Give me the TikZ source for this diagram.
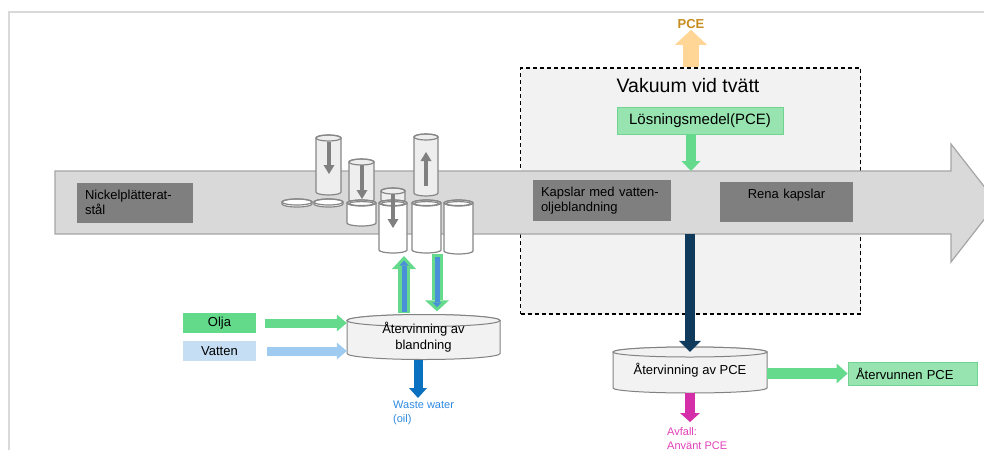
\documentclass[tikz,border=0pt]{standalone}
\usepackage{fontspec}
\setmainfont{Liberation Sans}
\usetikzlibrary{arrows.meta,positioning}

\definecolor{framegray}{RGB}{217,217,217}
\definecolor{bandgray}{RGB}{217,217,217}
\definecolor{bandline}{RGB}{165,165,165}
\definecolor{boxgray}{RGB}{127,127,127}
\definecolor{vacgray}{RGB}{242,242,242}
\definecolor{softgreen}{RGB}{151,228,176}
\definecolor{edgegreen}{RGB}{112,212,144}
\definecolor{oilgreen}{RGB}{99,217,138}
\definecolor{paleblue}{RGB}{197,222,244}
\definecolor{flowgreen}{RGB}{102,218,140}
\definecolor{flowblue}{RGB}{160,203,240}
\definecolor{midblue}{RGB}{74,144,217}
\definecolor{pcenavy}{RGB}{16,58,92}
\definecolor{wasteblue}{RGB}{10,112,192}
\definecolor{wastetext}{RGB}{47,138,224}
\definecolor{magentaflow}{RGB}{212,47,168}
\definecolor{avfallpink}{RGB}{224,64,184}
\definecolor{pceorange}{RGB}{255,214,150}
\definecolor{pcegold}{RGB}{200,140,30}
\definecolor{drumedge}{RGB}{130,130,130}
\definecolor{capedge}{RGB}{135,135,135}
\definecolor{capgray}{RGB}{128,128,128}
\definecolor{capfill}{RGB}{238,238,238}

\newcommand\capsule[5]{%
	\pgfmathsetmacro\crx{(#3-#1)/2}
	\filldraw[capline,fill=#5] (#1,#2+3) -- (#1,#4-3) arc[start angle=180,end angle=360,x radius=\crx pt,y radius=3pt] -- (#3,#2+3) arc[start angle=0,end angle=180,x radius=\crx pt,y radius=3pt] -- cycle;
	\draw[capline] ({(#1+#3)/2},#2+3) ellipse[x radius=\crx pt,y radius=3pt];
}
\newcommand\opencap[4]{%
	\capsule{#1}{#2}{#3}{#4}{white}
	\pgfmathsetmacro\cix{(#3-#1)/2-2.2}
	\draw[capline] ({(#1+#3)/2},#2+3.6) ellipse[x radius=\cix pt,y radius=2pt];
}
\newcommand\drum[7]{%
	\filldraw[drumline] (#2-#4,#3-#5) -- (#2-#4,#3+#5) arc[start angle=180,end angle=360,x radius=#4pt,y radius=#6pt] -- (#2+#4,#3-#5) arc[start angle=0,end angle=180,x radius=#4pt,y radius=#6pt] -- cycle;
	\draw[drumline] (#2,#3-#5) ellipse[x radius=#4pt,y radius=#6pt];
	\node[drumtext, minimum width=2*#4, minimum height=2*#5] (#1) at (#2,#3) {#7};
}

\begin{document}
\begin{tikzpicture}[x=1pt,y=-1pt,
	every node/.style={font=\fontsize{13}{15.5}\selectfont},
	gbox/.style={fill=boxgray, inner xsep=8pt, inner ysep=0pt, align=left},
	greenbox/.style={fill=softgreen, draw=edgegreen, line width=0.8pt, inner xsep=8pt, inner ysep=0pt, align=left},
	inbox/.style={fill=#1, minimum width=73pt, minimum height=20.5pt, inner sep=0pt},
	vacbox/.style={fill=vacgray, draw=black, line width=1.1pt, dash pattern=on 4pt off 3pt},
	drumline/.style={draw=drumedge, fill=vacgray, line width=1pt},
	drumtext/.style={align=center, inner sep=0pt},
	capline/.style={draw=capedge, line width=1.2pt},
	capflow/.style={draw=capgray, line width=4pt, -{Triangle[width=11pt,length=9pt,line width=0pt]}},
	pipe/.style n args={4}{draw=#1, line width=#2, -{Triangle[width=#3,length=#4,line width=0pt]}},
	tag/.style={font=\fontsize{11}{14}\selectfont, align=left, inner sep=0pt}]

	\useasboundingbox (0,0) rectangle (984,450);
	\draw[framegray, line width=1.5pt] (984,12) -- (9,12) -- (9,450);

	\node[vacbox, minimum width=340pt, minimum height=246pt] (vac) at (690.7,191) {};
	\node[font=\fontsize{19.5}{22}\selectfont] (vactitle) at (688,86) {Vakuum vid tvätt};

	\filldraw[fill=bandgray, draw=bandline, line width=1.2pt] (55,171) -- (951,171) -- (951,144) -- (997,203) -- (951,262) -- (951,234) -- (55,234) -- cycle;
	\coordinate (bandtop) at (691,171);
	\coordinate (bandbot) at (690,234);

	\node[gbox, text width=100pt, minimum height=40pt] (nickel) at (135,202.5) {Nickelplätterat-\\stål};
	\node[gbox, text width=122pt, minimum height=41pt] (kapslar) at (602,200.5) {Kapslar med vatten-\\oljeblandning};
	\node[gbox, text width=117pt, minimum height=40pt, align=center] (rena) at (786.5,202) {Rena kapslar\\\mbox{}};

	\node[greenbox, minimum width=166pt, minimum height=27pt, align=center, font=\fontsize{15}{18}\selectfont] (losn) at (700,120.5) {Lösningsmedel(PCE)};
	\node[font=\fontsize{13}{15}\selectfont\bfseries, text=pcegold, inner sep=1pt] (pce) at (691,24) {PCE};

	\draw[pipe={pceorange}{16pt}{32pt}{15pt}] (vac.north -| pce) -- (pce.south);
	\draw[pipe={flowgreen}{10pt}{19pt}{10pt}] (bandtop |- losn.south) -- (bandtop);

	\drum{pcerec}{690}{370}{77}{18}{5}{Återvinning av PCE}
	\drum{mix}{423.5}{337}{76.5}{16.5}{6}{Återvinning av\\blandning}

	\draw[pipe={pcenavy}{10pt}{22pt}{11pt}] (bandbot) -- (pcerec.north);

	\node[greenbox, text width=113pt, minimum height=23pt] (ret) at (912.5,373.5) {Återvunnen PCE};
	\draw[pipe={flowgreen}{11pt}{20pt}{11pt}] (pcerec.east |- ret) -- (ret.west);

	\node[tag, text=avfallpink, anchor=north west] (avfall) at (667,427) {Avfall:\\Använt PCE};
	\draw[pipe={magentaflow}{10pt}{20pt}{9pt}, shorten >=5pt] ([yshift=-5pt]pcerec.south) -- (pcerec.south |- avfall.north);

	\node[tag, text=wastetext, anchor=north west] (waste) at (393,401) {Waste water\\(oil)};
	\draw[pipe={wasteblue}{9pt}{18pt}{10pt}, shorten >=3pt] ([xshift=-5.5pt,yshift=-6pt]mix.south) -- ([xshift=-5.5pt]mix.south |- waste.north);

	\node[inbox=oilgreen] (olja) at (219.5,323) {Olja};
	\node[inbox=paleblue] (vatten) at (219.5,351) {Vatten};
	\draw[pipe={flowgreen}{9pt}{17pt}{10pt}, shorten <=9pt] (olja.east) -- (olja -| mix.west);
	\draw[pipe={flowblue}{9pt}{17pt}{10pt}, shorten <=11pt] (vatten.east) -- (vatten -| mix.west);

	\coordinate (capin) at (404,256);
	\coordinate (capout) at (437,254);
	\draw[pipe={flowgreen}{12pt}{24pt}{13pt}, shorten <=7pt] (mix.north -| capin) -- (capin);
	\draw[pipe={midblue}{5pt}{9pt}{5pt}, shorten <=8pt, shorten >=4.5pt] (mix.north -| capin) -- (capin);
	\draw[pipe={flowgreen}{11pt}{24pt}{11pt}, shorten >=9pt] (capout) -- (mix.north -| capout);
	\draw[pipe={midblue}{5pt}{9pt}{5pt}, shorten <=3pt, shorten >=13pt] (capout) -- (mix.north -| capout);

	\foreach \xa/\ya/\xb/\yb in {316/135/341/195, 349/159/374/203, 381/188/405/203, 414/134/438/196}
	{
		\capsule{\xa}{\ya}{\xb}{\yb}{capfill}
	}
	\foreach \xa/\xb/\yb in {347/376/226, 379/407/253, 412/441/253, 444/473/254}
	{
		\opencap{\xa}{200}{\xb}{\yb}
	}
	\foreach \xa/\xb in {282/312, 314/343}
	{
		\capsule{\xa}{199}{\xb}{207}{white}
	}
	\draw[capflow] (329,142) -- (329,174);
	\draw[capflow] (362,165) -- (362,199);
	\draw[capflow] (393,194) -- (393,228);
	\draw[capflow] (426,186) -- (426,152);
\end{tikzpicture}
\end{document}
